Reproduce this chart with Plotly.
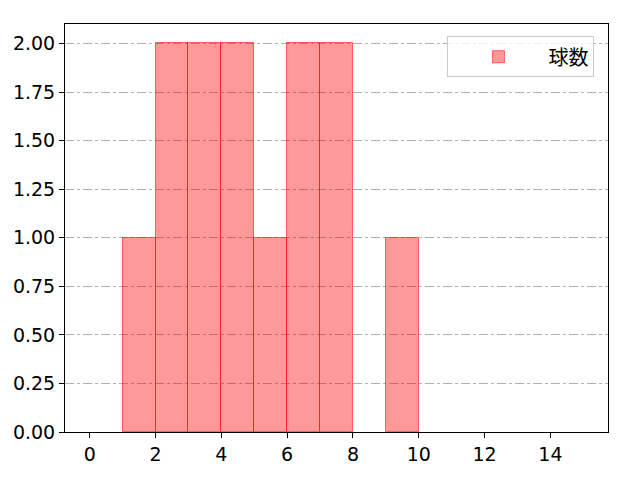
"""Histograma de 球数 con estilo tipo matplotlib."""

import plotly.graph_objects as go

# Datos del histograma (bordes izquierdos de cada bin, ancho 1)
bin_lefts = [1, 2, 3, 4, 5, 6, 7, 8, 9]
counts = [1, 2, 2, 2, 1, 2, 2, 0, 1]
series_name = "球数"

x_ticks = [0, 2, 4, 6, 8, 10, 12, 14]
y_ticks = [0, 0.25, 0.5, 0.75, 1.0, 1.25, 1.5, 1.75, 2.0]

FONT = "DejaVu Sans, Noto Sans CJK JP"

# Los bins vacíos no se dibujan (evita una línea plana en y=0)
bar_heights = [c if c else None for c in counts]

fig = go.Figure()

fig.add_trace(go.Bar(
    x=bin_lefts,
    y=bar_heights,
    width=1,
    offset=0,
    name=series_name,
    marker=dict(
        color="rgba(255, 0, 0, 0.4)",
        line=dict(color="rgba(255, 0, 0, 0.55)", width=1),
    ),
    showlegend=True,
))

fig.update_layout(
    width=640,
    height=480,
    margin=dict(l=57, r=40, t=16, b=56),
    paper_bgcolor="white",
    plot_bgcolor="white",
    font=dict(family=FONT, size=19, color="black"),
    bargap=0,
    showlegend=True,
    legend=dict(
        x=0.975, y=0.97, xanchor="right", yanchor="top",
        bgcolor="rgba(255,255,255,0.8)",
        bordercolor="#cccccc", borderwidth=1,
        font=dict(family="Noto Sans CJK JP", size=20),
        itemwidth=90,
    ),
    xaxis=dict(
        range=[-0.75, 15.75],
        tickvals=x_ticks,
        ticks="outside", ticklen=5, tickcolor="black",
        showgrid=False, zeroline=False, automargin=False,
        showline=True, linecolor="black", linewidth=1, mirror=True,
    ),
    yaxis=dict(
        range=[0, 2.1],
        tickvals=y_ticks,
        tickformat=".2f",
        ticks="outside", ticklen=5, tickcolor="black",
        showgrid=True, gridcolor="#b0b0b0", griddash="dashdot", gridwidth=1,
        zeroline=False, automargin=False,
        showline=True, linecolor="black", linewidth=1, mirror=True,
    ),
)

fig.write_html("out.html")
